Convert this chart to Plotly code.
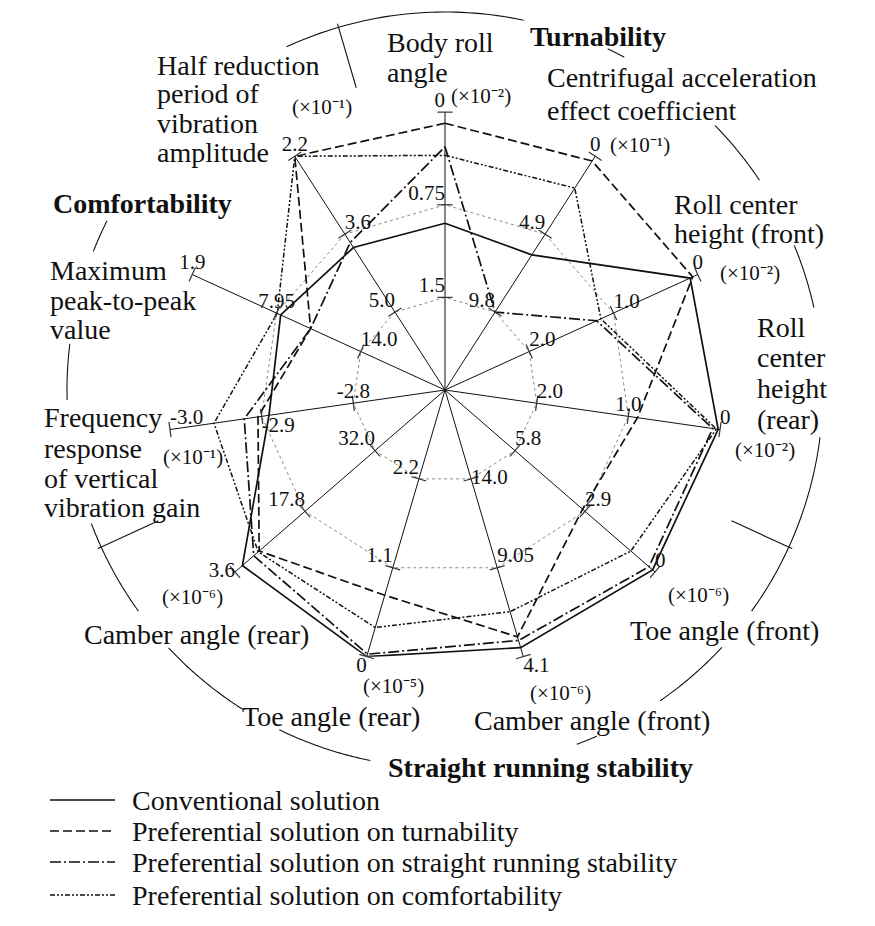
import numpy as np
import plotly.graph_objects as go

PAGE_W, PAGE_H = 875, 926
OFF = 8                      # default body margin of the html page
W, H = PAGE_W - 2 * OFF, PAGE_H - 2 * OFF

# ---------------- data ----------------
axes_names = ["Body roll angle", "Centrifugal acceleration effect coefficient",
              "Roll center height (front)", "Roll center height (rear)",
              "Toe angle (front)", "Camber angle (front)", "Toe angle (rear)",
              "Camber angle (rear)", "Frequency response of vertical vibration gain",
              "Maximum peak-to-peak value", "Half reduction period of vibration amplitude"]

# axis scale: value at inner grid (1/3 radius) and at outer grid (full radius)
scale_inner = [1.5, 9.8, 2.0, 2.0, 5.8, 14.0, 2.2, 32.0, -2.8, 14.0, 5.0]
scale_outer = [0.0, 0.0, 0.0, 0.0, 0.0, 4.1, 0.0, 3.6, -3.0, 1.9, 2.2]

tick_inner = ["1.5", "9.8", "2.0", "2.0", "5.8", "14.0", "2.2", "32.0", "-2.8", "14.0", "5.0"]
tick_middle = ["0.75", "4.9", "1.0", "1.0", "2.9", "9.05", "1.1", "17.8", "-2.9", "7.95", "3.6"]
tick_outer = ["0", "0", "0", "0", "0", "4.1", "0", "3.6", "-3.0", "1.9", "2.2"]
unit_labels = ["(×10⁻²)", "(×10⁻¹)", "(×10⁻²)", "(×10⁻²)", "(×10⁻⁶)", "(×10⁻⁶)",
               "(×10⁻⁵)", "(×10⁻⁶)", "(×10⁻¹)", None, "(×10⁻¹)"]

series_names = ["Conventional solution", "Preferential solution on turnability",
                "Preferential solution on straight running stability",
                "Preferential solution on comfortability"]
conventional = [0.90, 6.2, 0.09, 0.02, 0.10, 4.6, 0.00, 5.1, -2.892, 8.25, 3.84]
turnability = [0.09, 0.3, 0.06, 0.90, 3.00, 5.2, 0.76, 8.5, -2.904, 10.4, 2.20]
straight = [0.28, 9.8, 1.20, 0.08, 0.25, 5.0, 0.03, 7.4, -2.919, 10.4, 3.75]
comfort = [0.35, 2.0, 1.15, 0.04, 1.00, 6.6, 0.36, 8.3, -2.952, 8.0, 2.20]

groups = ["Turnability", "Straight running stability", "Comfortability"]

# ---------------- helpers ----------------
N = len(axes_names)
inner = np.array(scale_inner)
outer = np.array(scale_outer)


def to_r(vals):
    v = np.array(vals, dtype=float)
    return 1 / 3 + (2 / 3) * (v - inner) / (outer - inner)


def dom(cx, cy, rad):
    return dict(x=[(cx - rad - OFF) / W, (cx + rad - OFF) / W],
                y=[1 - (cy + rad - OFF) / H, 1 - (cy - rad - OFF) / H])


FONT = "Liberation Serif"
INK = "#111111"
cx, cy, R = 445, 390, 278      # polar centre / radius in page px
R2 = 382                       # outer decoration polar radius (px)
R2N = R2 / R                   # same in data units

fig = go.Figure()

# ---------------- series ----------------
styles = [dict(dash="solid", width=1.7),
          dict(dash="9px,4px", width=1.7),
          dict(dash="11px,3px,2px,3px", width=1.7),
          dict(dash="5px,2px,2px,2px,2px,2px", width=1.5)]
for name, vals, st in zip(series_names, [conventional, turnability, straight, comfort], styles):
    r = list(to_r(vals))
    fig.add_trace(go.Scatterpolar(
        r=r + [r[0]], theta=axes_names + [axes_names[0]], mode="lines", name=name,
        line=dict(color=INK, width=st["width"], dash=st["dash"]), subplot="polar",
        showlegend=False))

# ---------------- tick marks and labels ----------------
theta_deg = [i * 360 / N for i in range(N)]
for lvl in (1 / 3, 2 / 3, 1.0):
    fig.add_trace(go.Scatterpolar(
        r=[lvl] * N, theta=axes_names, mode="markers", showlegend=False, hoverinfo="skip",
        marker=dict(symbol="line-ew", size=11, angle=theta_deg,
                    line=dict(color="#333", width=1.2)), subplot="polar"))

pos_outer = ["top left", "top center", "top center", "top right", "top right", "bottom right",
             "bottom left", "middle left", "top right", "top center", "top center"]
pos_middle = ["top left", "top left", "top right", "top center", "top right", "top right",
              "top left", "top left", "bottom right", "top center", "top right"]
pos_inner = ["top left", "top left", "top right", "top right", "top right", "middle right",
             "top left", "top left", "top center", "top right", "top left"]
for lvl, labels, pos in ((1.0, tick_outer, pos_outer), (2 / 3, tick_middle, pos_middle),
                         (1 / 3, tick_inner, pos_inner)):
    fig.add_trace(go.Scatterpolar(
        r=[lvl] * N, theta=axes_names, mode="text", text=labels, textposition=pos,
        textfont=dict(family=FONT, size=21, color=INK), showlegend=False,
        hoverinfo="skip", subplot="polar"))

# ---------------- group arcs (decoration on an outer polar) ----------------
arc_spans = [(335.2, 372.0), (25.5, 28.3), (45.6, 56.3), (67.5, 77.4), (97.2, 125.8),
             (132.9, 145.3), (156.3, 159.6), (191.4, 206.0), (212.4, 227.0),
             (234.2, 249.3), (268.5, 277.0), (291.5, 296.6)]
arc_r = 378 / R
ar, at = [], []
for a0, a1 in arc_spans:
    t = np.linspace(a0, a1, 40)
    ar += [arc_r] * len(t) + [None]
    at += list(t) + [None]
fig.add_trace(go.Scatterpolar(r=ar, theta=at, mode="lines", showlegend=False, hoverinfo="skip",
                              line=dict(color=INK, width=1.1), subplot="polar2"))
bound = [(theta_deg[10] + 360) / 2, (theta_deg[3] + theta_deg[4]) / 2, (theta_deg[7] + theta_deg[8]) / 2]
br, bt = [], []
for b in bound:
    br += [315 / R, R2N, None]
    bt += [b, b, None]
fig.add_trace(go.Scatterpolar(r=br, theta=bt, mode="lines", showlegend=False, hoverinfo="skip",
                              line=dict(color=INK, width=1.1), subplot="polar2"))

# ---------------- legend (drawn as key rows) ----------------
legend_rows = [800, 831, 862, 895]
for name, st, yrow in zip(series_names, styles, legend_rows):
    fig.add_trace(go.Scatter(x=[50, 115], y=[yrow, yrow], mode="lines", showlegend=False,
                             hoverinfo="skip",
                             line=dict(color=INK, width=st["width"], dash=st["dash"])))

# ---------------- text labels ----------------
ann = []


def label(text, x, y, anchor="left", size=28, bold=False):
    ann.append(dict(text=f"<b>{text}</b>" if bold else text, x=x, y=y, xref="x",
                    yref="y", xanchor=anchor, yanchor="middle", showarrow=False,
                    font=dict(family=FONT, size=size, color=INK)))


for t, x, y in [("Body roll", 385, 42), ("angle", 385, 72),
                ("Centrifugal acceleration", 545, 77), ("effect coefficient", 545, 110),
                ("Roll center", 672, 204), ("height (front)", 672, 233),
                ("Roll", 755, 327), ("center", 755, 357), ("height", 755, 388), ("(rear)", 755, 419),
                ("Toe angle (front)", 628, 630), ("Camber angle (front)", 472, 720),
                ("Toe angle (rear)", 240, 716), ("Camber angle (rear)", 82, 634),
                ("Frequency", 42, 417), ("response", 42, 448), ("of vertical", 42, 478),
                ("vibration gain", 42, 507),
                ("Maximum", 48, 270), ("peak-to-peak", 48, 300), ("value", 48, 329),
                ("Half reduction", 155, 65), ("period of", 155, 93), ("vibration", 155, 123),
                ("amplitude", 155, 152)]:
    label(t, x, y)

label(groups[0], 598, 36, "center", 28, True)
label(groups[1], 540, 767, "center", 28, True)
label(groups[2], 142, 203, "center", 28, True)

unit_pos = [(481, 96), (640, 145), (750, 273), (765, 450), (698, 595), (560, 693),
            (393, 686), (192, 597), (193, 457), None, (322, 107)]
for u, p in zip(unit_labels, unit_pos):
    if u is not None:
        label(u, p[0], p[1], "center", 21)

for name, yrow in zip(series_names, legend_rows):
    label(name, 130, yrow, "left", 28)

# ---------------- layout ----------------
fig.update_layout(
    width=W, height=H, margin=dict(l=0, r=0, t=0, b=0),
    paper_bgcolor="white", plot_bgcolor="rgba(0,0,0,0)",
    annotations=ann, showlegend=False,
    xaxis=dict(range=[OFF, OFF + W], visible=False, fixedrange=True),
    yaxis=dict(range=[OFF + H, OFF], visible=False, fixedrange=True),
    polar=dict(
        domain=dom(cx, cy, R),
        bgcolor="rgba(0,0,0,0)", gridshape="linear",
        angularaxis=dict(type="category", categoryarray=axes_names, rotation=90,
                         direction="clockwise", showticklabels=False, ticks="",
                         showline=False, gridcolor="#111", gridwidth=1.1),
        radialaxis=dict(range=[0, 1.0005], tickvals=[1 / 3, 2 / 3, 1], showticklabels=False,
                        ticks="", showline=False, gridcolor="#8a8a8a", gridwidth=1,
                        griddash="dot"),
    ),
    polar2=dict(
        domain=dom(cx, cy, R2),
        bgcolor="rgba(0,0,0,0)",
        angularaxis=dict(type="linear", rotation=90, direction="clockwise", thetaunit="degrees",
                         showticklabels=False, ticks="", showline=False, showgrid=False),
        radialaxis=dict(range=[0, R2N], visible=False, showgrid=False),
    ),
)

fig.write_html("out.html")
